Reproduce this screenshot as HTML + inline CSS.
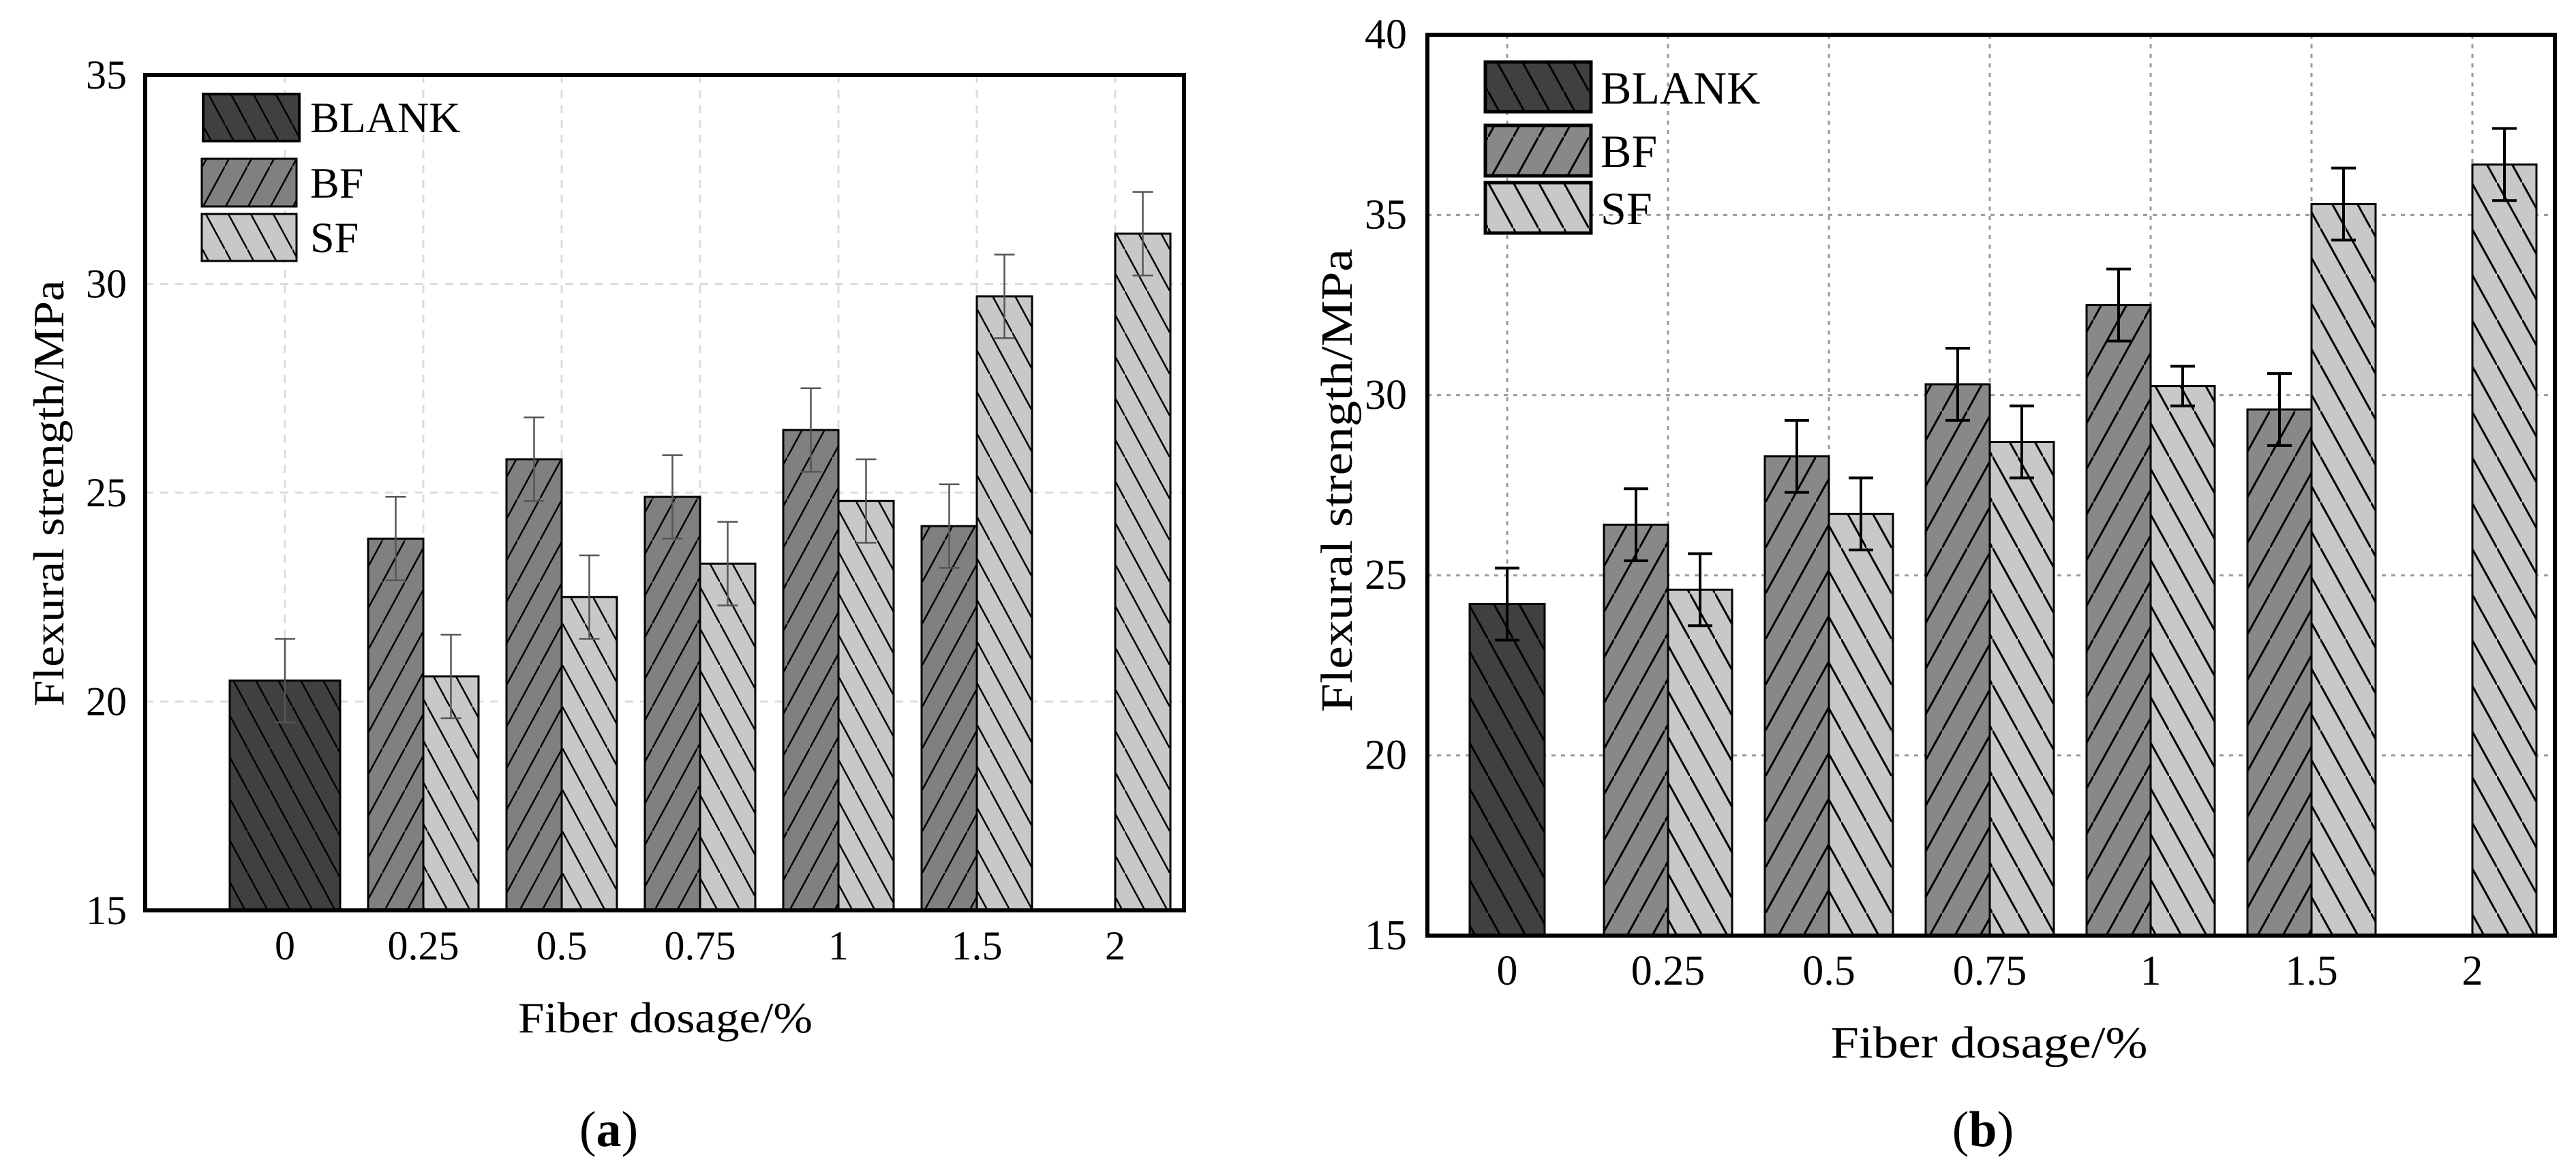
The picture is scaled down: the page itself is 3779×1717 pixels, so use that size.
<!DOCTYPE html>
<html><head><meta charset="utf-8"><style>
html,body{margin:0;padding:0;background:#fff}
svg{display:block}
text{font-family:"Liberation Serif",serif;fill:#000}
</style></head><body>
<svg id="fig" width="3779" height="1717" viewBox="0 0 3779 1717" xmlns="http://www.w3.org/2000/svg">
<defs>
<pattern id="pa-blank" patternUnits="userSpaceOnUse" width="33" height="61"><rect width="33" height="61" fill="#404040"/><path d="M-3,-5.5 L36,66.5" stroke="#000" stroke-width="2.5"/></pattern>
<pattern id="pa-bf" patternUnits="userSpaceOnUse" width="33" height="61"><rect width="33" height="61" fill="#808080"/><path d="M-3,66.5 L36,-5.5" stroke="#000" stroke-width="2.5"/></pattern>
<pattern id="pa-sf" patternUnits="userSpaceOnUse" width="33" height="61"><rect width="33" height="61" fill="#c8c8c8"/><path d="M-3,-5.5 L36,66.5" stroke="#000" stroke-width="2.5"/></pattern>
<pattern id="pb-blank" patternUnits="userSpaceOnUse" width="37" height="67"><rect width="37" height="67" fill="#404040"/><path d="M-3,-5.4 L40,72.4" stroke="#000" stroke-width="3"/></pattern>
<pattern id="pb-bf" patternUnits="userSpaceOnUse" width="37" height="67"><rect width="37" height="67" fill="#888"/><path d="M-3,72.4 L40,-5.4" stroke="#000" stroke-width="3"/></pattern>
<pattern id="pb-sf" patternUnits="userSpaceOnUse" width="37" height="67"><rect width="37" height="67" fill="#c8c8c8"/><path d="M-3,-5.4 L40,72.4" stroke="#000" stroke-width="3"/></pattern>
</defs>
<g id="panelA"></g>
<g id="panelB"></g>
</svg>
<script>
const categories = ["0","0.25","0.5","0.75","1","1.5","2"];
const yTicksA = [15,20,25,30,35];
const yTicksB = [15,20,25,30,35,40];
// panel a values
const blankA = 20.5, blankErrA = 1.0;
const bfA = [null,23.9,25.8,24.9,26.5,24.2,null];
const bfErrA = [null,1,1,1,1,1,null];
const sfA = [null,20.6,22.5,23.3,24.8,29.7,31.2];
const sfErrA = [null,1,1,1,1,1,1];
// panel b values
const blankB = 24.2, blankErrB = 1.0;
const bfB = [null,26.4,28.3,30.3,32.5,29.6,null];
const bfErrB = [null,1,1,1,1,1,null];
const sfB = [null,24.6,26.7,28.7,30.25,35.3,36.4];
const sfErrB = [null,1,1,1,0.55,1,1];

const NS="http://www.w3.org/2000/svg";
function mk(parent,tag,attrs,txt){const e=document.createElementNS(NS,tag);for(const k in attrs)e.setAttribute(k,attrs[k]);if(txt!==undefined)e.textContent=txt;parent.appendChild(e);return e;}

function panel(g,cfg){
  const {L,R,T,B,ymin,ymax,c0,dc,bw,blankW,ticks,pat,errColor,errW,capW,gridStyle,fs,tickRight,tickBase}=cfg;
  const y=v=>B-(v-ymin)/(ymax-ymin)*(B-T);
  const x=i=>c0+dc*i;
  // grid
  ticks.forEach(t=>{if(t>ymin&&t<ymax){const l=mk(g,'line',{x1:L,x2:R,y1:y(t),y2:y(t),stroke:gridStyle.c,'stroke-width':gridStyle.w,'stroke-dasharray':gridStyle.d});
    
    }});
  categories.forEach((c,i)=>{const l=mk(g,'line',{x1:x(i),x2:x(i),y1:T,y2:B,stroke:gridStyle.c,'stroke-width':gridStyle.w,'stroke-dasharray':gridStyle.d});
    
    });
  function bar(x0,w,v,p,name){const r=mk(g,'rect',{x:x0,y:y(v),width:w,height:B-y(v),fill:'url(#'+p+')',stroke:'#000','stroke-width':3});
    
    }
  function err(cx,v,e){const p=mk(g,'path',{d:`M${cx},${y(v+e)}V${y(v-e)}M${cx-capW/2},${y(v+e)}H${cx+capW/2}M${cx-capW/2},${y(v-e)}H${cx+capW/2}`,stroke:errColor,'stroke-width':errW,fill:'none'});
    
    }
  bar(x(0)-blankW/2,blankW,cfg.blank,pat+'-blank','bar-blank-0');
  err(x(0),cfg.blank,cfg.blankErr);
  categories.forEach((c,i)=>{
    if(cfg.bf[i]!=null){bar(x(i)-bw,bw,cfg.bf[i],pat+'-bf','bar-bf-'+c);}
    if(cfg.sf[i]!=null){bar(x(i),bw,cfg.sf[i],pat+'-sf','bar-sf-'+c);}
  });
  categories.forEach((c,i)=>{
    if(cfg.bf[i]!=null)err(x(i)-bw/2,cfg.bf[i],cfg.bfErr[i]);
    if(cfg.sf[i]!=null)err(x(i)+bw/2,cfg.sf[i],cfg.sfErr[i]);
  });
  const fr=mk(g,'rect',{x:L,y:T,width:R-L,height:B-T,fill:'none',stroke:'#000','stroke-width':6});
  
  
  ticks.forEach(t=>{const tx=mk(g,'text',{x:tickRight,y:y(t)+20,'text-anchor':'end','font-size':fs},String(t));
    
    });
  categories.forEach((c,i)=>{const tx=mk(g,'text',{x:x(i),y:tickBase,'text-anchor':'middle','font-size':fs},c);
    
    });
}

const gA=document.getElementById('panelA');
panel(gA,{L:213,R:1737,T:110,B:1336,ymin:15,ymax:35,c0:418,dc:203,bw:81,blankW:162,ticks:yTicksA,pat:'pa',
  errColor:'#555',errW:2.5,capW:30,gridStyle:{c:'#dcdcdc',w:3,d:'12 10'},fs:60,tickRight:186,tickBase:1408,
  blank:blankA,blankErr:blankErrA,bf:bfA,bfErr:bfErrA,sf:sfA,sfErr:sfErrA});
const gB=document.getElementById('panelB');
panel(gB,{L:2094,R:3748,T:51,B:1373,ymin:15,ymax:40,c0:2211,dc:236,bw:94,blankW:110,ticks:yTicksB,pat:'pb',
  errColor:'#000',errW:4,capW:36,gridStyle:{c:'#9a9a9a',w:3,d:'6 8'},fs:62,tickRight:2064,tickBase:1445,
  blank:blankB,blankErr:blankErrB,bf:bfB,bfErr:bfErrB,sf:sfB,sfErr:sfErrB});
</script>
<svg width="0" height="0" style="position:absolute;left:0;top:0"></svg>
<div style="position:absolute;left:0;top:0;width:3779px;height:1717px;pointer-events:none">
<svg width="3779" height="1717" viewBox="0 0 3779 1717" xmlns="http://www.w3.org/2000/svg">
<!-- legend a -->
<g>
<rect x="298" y="138" width="141" height="69" fill="url(#pa-blank)" stroke="#000" stroke-width="4"/>
<text x="455" y="194" font-size="64">BLANK</text>
<rect x="296" y="233" width="139" height="70" fill="url(#pa-bf)" stroke="#000" stroke-width="3"/>
<text x="455" y="290" font-size="64">BF</text>
<rect x="296" y="314" width="139" height="69" fill="url(#pa-sf)" stroke="#000" stroke-width="3"/>
<text x="455" y="370" font-size="64">SF</text>
</g>
<text transform="translate(93,724) rotate(-90)" text-anchor="middle" font-size="64" textLength="626" lengthAdjust="spacingAndGlyphs">Flexural strength/MPa</text>
<text x="976" y="1515" text-anchor="middle" font-size="64" textLength="432" lengthAdjust="spacingAndGlyphs">Fiber dosage/%</text>
<text x="893" y="1682" text-anchor="middle" font-size="74">(<tspan font-weight="bold">a</tspan>)</text>
<!-- legend b -->
<g>
<rect x="2179" y="91" width="155" height="73" fill="url(#pb-blank)" stroke="#000" stroke-width="5"/>
<text x="2348" y="152" font-size="68">BLANK</text>
<rect x="2179" y="184" width="155" height="74" fill="url(#pb-bf)" stroke="#000" stroke-width="5"/>
<text x="2348" y="245" font-size="68">BF</text>
<rect x="2179" y="268" width="155" height="74" fill="url(#pb-sf)" stroke="#000" stroke-width="5"/>
<text x="2348" y="329" font-size="68">SF</text>
</g>
<text transform="translate(1983,705) rotate(-90)" text-anchor="middle" font-size="66" textLength="680" lengthAdjust="spacingAndGlyphs">Flexural strength/MPa</text>
<text x="2918" y="1552" text-anchor="middle" font-size="66" textLength="465" lengthAdjust="spacingAndGlyphs">Fiber dosage/%</text>
<text x="2909" y="1682" text-anchor="middle" font-size="74">(<tspan font-weight="bold">b</tspan>)</text>
</svg>
</div>
</body></html>
